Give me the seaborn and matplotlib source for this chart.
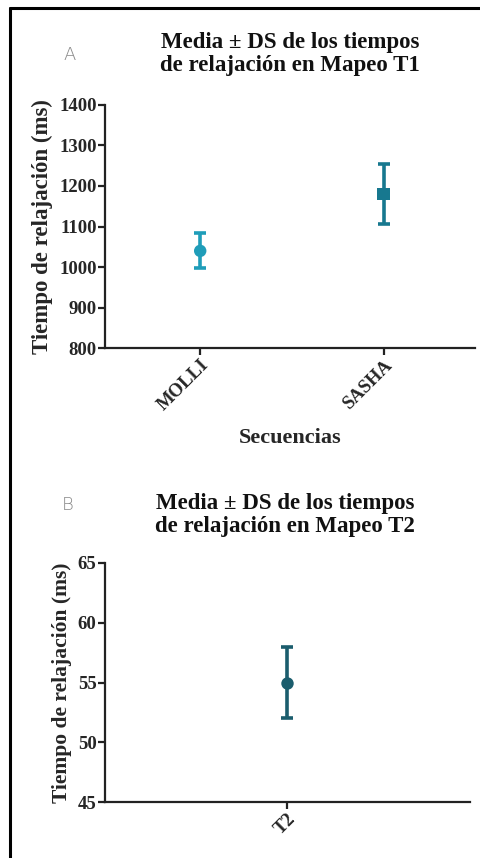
import matplotlib
matplotlib.use("Agg")
import matplotlib.pyplot as plt
import seaborn as sns
import pandas as pd
from matplotlib.lines import Line2D

# ---- data ----
t1_categories = ["MOLLI", "SASHA"]
t1_means = [1040, 1180]
t1_sd = [43, 75]
t1_colors = ["#1f9db9", "#17788f"]
t1_markers = ["o", "s"]

t2_categories = ["T2"]
t2_means = [55]
t2_sd = [3]
t2_colors = ["#1b5d6d"]
t2_markers = ["o"]

t1_yticks = [800, 900, 1000, 1100, 1200, 1300, 1400]
t2_yticks = [45, 50, 55, 60, 65]

sns.set_theme(style="ticks")
plt.rcParams["font.family"] = ["Liberation Serif", "DejaVu Serif"]
plt.rcParams["font.weight"] = "bold"

fig = plt.figure(figsize=(4.81, 8.58), dpi=100)
ax1 = fig.add_axes([0.218, 0.594, 0.770, 0.284])
ax2 = fig.add_axes([0.218, 0.065, 0.759, 0.279])


def draw(ax, cats, means, sds, colors, markers):
    df = pd.DataFrame({"cat": cats, "mean": means})
    for i, (c, m, s, col, mk) in enumerate(zip(cats, means, sds, colors, markers)):
        ax.errorbar([i], [m], yerr=[s], fmt="none", ecolor=col, elinewidth=2.6,
                    capsize=4.5, capthick=2.6, zorder=2)
    sns.scatterplot(data=df, x="cat", y="mean", hue="cat", style="cat",
                    palette=dict(zip(cats, colors)),
                    markers=dict(zip(cats, markers)), s=80, linewidth=0,
                    legend=False, ax=ax, zorder=3)


draw(ax1, t1_categories, t1_means, t1_sd, t1_colors, t1_markers)
draw(ax2, t2_categories, t2_means, t2_sd, t2_colors, t2_markers)

ax1.set_ylim(800, 1400)
ax1.set_yticks(t1_yticks)
ax1.set_xlim(-0.52, 1.50)
ax2.set_ylim(45, 65)
ax2.set_yticks(t2_yticks)
ax2.set_xlim(-1.0, 1.0)

for ax, ylsize in ((ax1, 16.5), (ax2, 15.5)):
    sns.despine(ax=ax)
    for sp in ("left", "bottom"):
        ax.spines[sp].set_linewidth(1.6)
        ax.spines[sp].set_color("#222222")
    ax.tick_params(axis="both", width=1.6, length=5, color="#222222",
                   labelsize=13.5, pad=1)
    for lab in ax.get_yticklabels():
        lab.set_fontweight("bold")
    for lab in ax.get_xticklabels():
        lab.set_fontweight("bold")
        lab.set_rotation(45)
        lab.set_ha("right")
        lab.set_rotation_mode("anchor")
    ax.set_ylabel("Tiempo de relajación (ms)", fontsize=ylsize, fontweight="bold",
                  labelpad=4)

ax1.set_xlabel("Secuencias", fontsize=16, fontweight="bold", labelpad=10)
ax2.set_xlabel("")

fig.text(0.603, 0.937, "Media ± DS de los tiempos\nde relajación en Mapeo T1",
         ha="center", va="center", fontsize=16.5, fontweight="bold",
         linespacing=1.12, color="#111111")
fig.text(0.593, 0.400, "Media ± DS de los tiempos\nde relajación en Mapeo T2",
         ha="center", va="center", fontsize=16.5, fontweight="bold",
         linespacing=1.12, color="#111111")
fig.text(0.145, 0.936, "A", fontsize=13, color="#888888", family="DejaVu Sans",
         fontweight="light", ha="center", va="center")
fig.text(0.141, 0.412, "B", fontsize=13, color="#888888", family="DejaVu Sans",
         fontweight="light", ha="center", va="center")

# frame border (left and top)
fig.add_artist(Line2D([0.021, 0.021], [0.0, 0.991], transform=fig.transFigure,
                      color="black", linewidth=2.2))
fig.add_artist(Line2D([0.021, 1.0], [0.991, 0.991], transform=fig.transFigure,
                      color="black", linewidth=2.2))

fig.savefig("out.png", dpi=100)
